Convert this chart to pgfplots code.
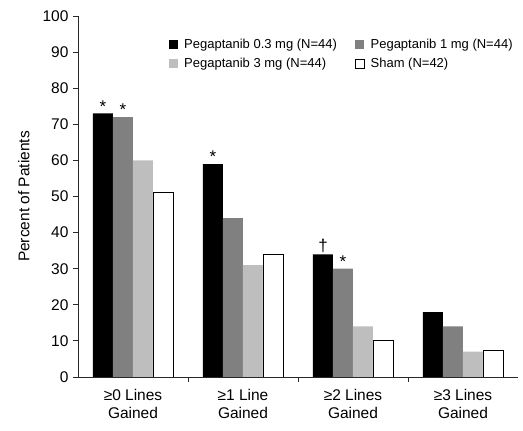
\documentclass[border=0pt]{standalone}
\usepackage{fontspec}
\setmainfont{Liberation Sans}
\usepackage{pgfplots}
\pgfplotsset{compat=1.18}
\definecolor{dgray}{RGB}{128,128,128}
\definecolor{lgray}{RGB}{190,190,190}
\definecolor{axgray}{RGB}{40,40,40}
\begin{document}
\begin{tikzpicture}[x=1pt,y=1pt]
\useasboundingbox (-78,-54) rectangle (445,377);
\begin{axis}[
  at={(0,0)}, anchor=south west,
  scale only axis, width=440pt, height=361pt,
  ybar=0pt, bar width=20pt,
  xmin=-0.5, xmax=3.5, ymin=0, ymax=100,
  axis lines*=left,
  axis line style={axgray, line width=0.9pt},
  every tick/.style={axgray, line width=0.9pt},
  tick align=outside,
  major tick length=5pt,
  ytick={0,10,...,100},
  xtick={0.5,1.5,2.5}, xticklabels={},
  extra x ticks={0,1,2,3},
  extra x tick labels={≥0 Lines\\Gained,≥1 Line\\Gained,≥2 Lines\\Gained,≥3 Lines\\Gained},
  extra x tick style={major tick length=0pt, xticklabel style={align=center, yshift=-9pt}},
  /pgf/number format/assume math mode=true,
  ticklabel style={font=\fontsize{15.5}{17.5}\selectfont},
  yticklabel style={xshift=-1pt},
  ylabel={Percent of Patients},
  ylabel style={at={(axis description cs:-0.102,0.5)}, anchor=south, font=\fontsize{15.5}{18}\selectfont},
  legend style={at={(axis description cs:0.2,0.948)}, anchor=north west, draw=none, fill=none,
    font=\fontsize{13}{15}\selectfont, row sep=4pt},
  legend columns=2,
  legend cell align=left,
  /tikz/every odd column/.append style={column sep=4pt},
  /tikz/every even column/.append style={column sep=16pt},
  legend image code/.code={\path[#1, line width=0.6pt] (0pt,-4.5pt) rectangle (9pt,4.5pt);},
  point meta=explicit symbolic,
  nodes near coords,
  every node near coord/.append style={font=\fontsize{17}{18}\selectfont, inner sep=1pt},
]
\addplot[fill=black, draw=none] coordinates {(0,73) [*] (1,59) [*] (2,34) [†] (3,18) []};
\addplot[fill=dgray, draw=none] coordinates {(0,72) [*] (1,44) [] (2,30) [*] (3,14) []};
\addplot[fill=lgray, draw=none] coordinates {(0,60) [] (1,31) [] (2,14) [] (3,7) []};
\addplot[fill=white, draw=black, line width=0.8pt] coordinates {(0,51) [] (1,34) [] (2,10) [] (3,7.3) []};
\legend{Pegaptanib 0.3 mg (N=44), Pegaptanib 1 mg (N=44), Pegaptanib 3 mg (N=44), Sham (N=42)}
\end{axis}
\end{tikzpicture}
\end{document}
